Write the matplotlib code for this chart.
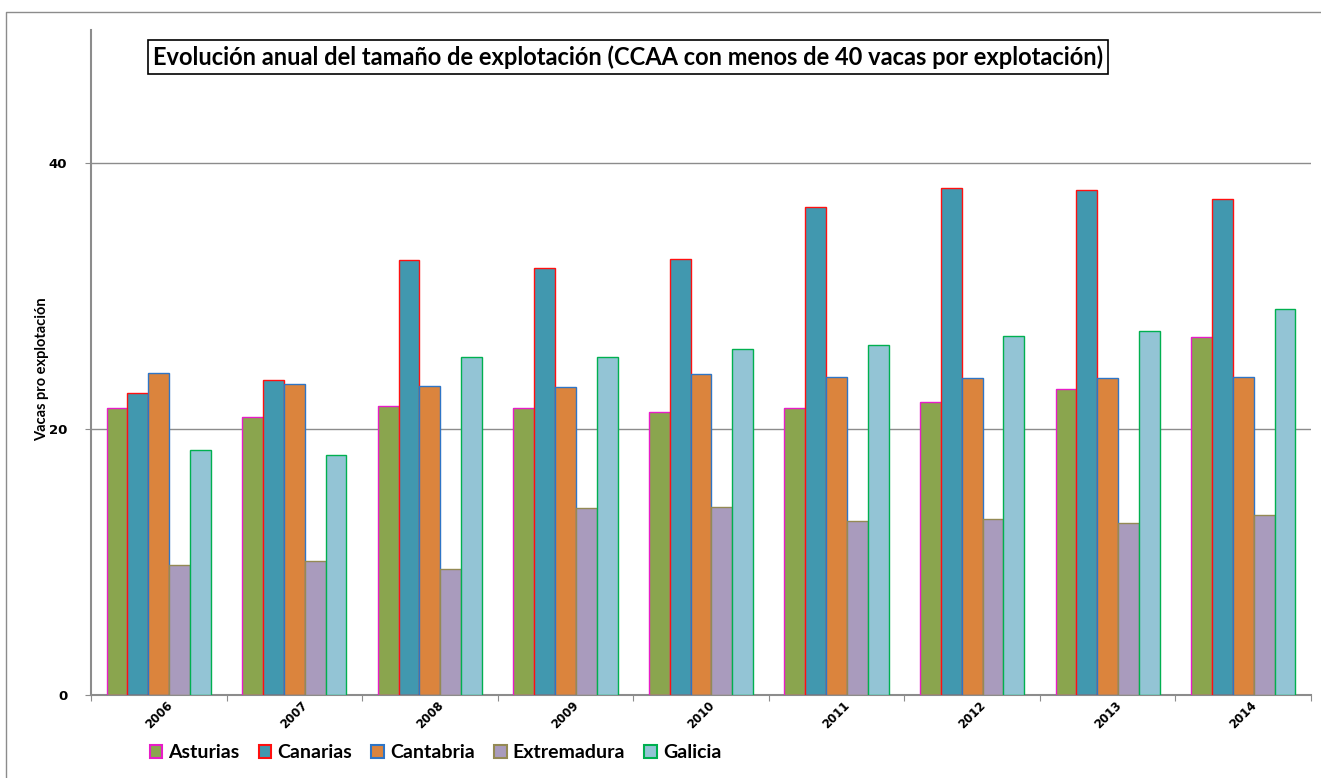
import matplotlib.pyplot as plt
import matplotlib.patches as mpatches
import matplotlib.lines as mlines
import numpy as np

# Data
years = ["2006", "2007", "2008", "2009", "2010", "2011", "2012", "2013", "2014"]
asturias = [21.6, 20.9, 21.7, 21.6, 21.3, 21.6, 22.0, 23.0, 26.9]
canarias = [22.7, 23.7, 32.7, 32.1, 32.8, 36.7, 38.1, 38.0, 37.3]
cantabria = [24.2, 23.35, 23.2, 23.15, 24.1, 23.9, 23.8, 23.8, 23.9]
extremadura = [9.8, 10.1, 9.5, 14.05, 14.1, 13.1, 13.2, 12.9, 13.5]
galicia = [18.45, 18.05, 25.4, 25.4, 26.0, 26.35, 27.0, 27.4, 29.0]

series = ["Asturias", "Canarias", "Cantabria", "Extremadura", "Galicia"]
values = [asturias, canarias, cantabria, extremadura, galicia]
fills = ["#8AA54E", "#4198AF", "#DB843D", "#A99BBD", "#93C4D5"]
edges = ["#E81CC8", "#FF1010", "#2E75C6", "#948A54", "#00B050"]

plt.rcParams['font.family'] = ['Lato', 'DejaVu Sans']

fig = plt.figure(figsize=(13.21, 7.78), dpi=100)
ax = fig.add_axes([91 / 1321, 1 - 695 / 778, 1220 / 1321, 665 / 778])

# outer frame (only top and left edges are visible)
fig.lines.append(mlines.Line2D([6 / 1321, 6 / 1321, 1], [0, 1 - 12 / 778, 1 - 12 / 778],
                               transform=fig.transFigure, color="#8C8C8C", linewidth=1.0))

x = np.arange(len(years))
width = 1 / 6.5
for i, (name, vals) in enumerate(zip(series, values)):
    ax.bar(x + (i - 2) * width, vals, width, color=fills[i], edgecolor=edges[i],
           linewidth=1.0, label=name, zorder=3)

ax.set_xlim(-0.5, len(years) - 0.5)
ax.set_ylim(0, 50)
ax.set_yticks([0, 20, 40])
ax.set_yticklabels(["0", "20", "40"], fontweight="bold", fontsize=9.5, family="DejaVu Sans")
ax.yaxis.grid(True, color="#8C8C8C", linewidth=1.0, zorder=0)

ax.set_xticks(np.arange(len(years) + 1) - 0.5)
ax.set_xticklabels([])
ax.set_xticks(x, minor=True)
ax.set_xticklabels(years, minor=True, rotation=45, fontweight="bold", fontsize=8.5,
                   ha="center", va="top", family="DejaVu Sans")
ax.tick_params(axis="x", which="minor", length=0, pad=3)
ax.tick_params(axis="x", which="major", length=4, color="#8C8C8C")
ax.tick_params(axis="y", length=4, color="#8C8C8C", pad=13)

for s in ["top", "right"]:
    ax.spines[s].set_visible(False)
for s in ["left", "bottom"]:
    ax.spines[s].set_color("#8C8C8C")
    ax.spines[s].set_linewidth(1.5)

ax.set_ylabel("Vacas pro explotación", fontweight="bold", fontsize=10.5)
ax.yaxis.set_label_coords(-0.034, 0.49)

fig.text(153 / 1321, 1 - 57 / 778,
         "Evolución anual del tamaño de explotación (CCAA con menos de 40 vacas por explotación)",
         fontsize=17, fontweight="bold", va="center", ha="left",
         bbox=dict(boxstyle="square,pad=0.2", facecolor="white", edgecolor="black", linewidth=1.2))

handles = [mpatches.Patch(facecolor=fills[i], edgecolor=edges[i], linewidth=1.5, label=series[i])
           for i in range(len(series))]
fig.legend(handles=handles, loc="center left", bbox_to_anchor=(132 / 1321, 1 - 753 / 778),
           ncol=5, frameon=False, handlelength=0.65, handleheight=0.65, handletextpad=0.3,
           columnspacing=1.0, prop={"weight": "bold", "size": 14})

fig.savefig("out.png", dpi=100)
